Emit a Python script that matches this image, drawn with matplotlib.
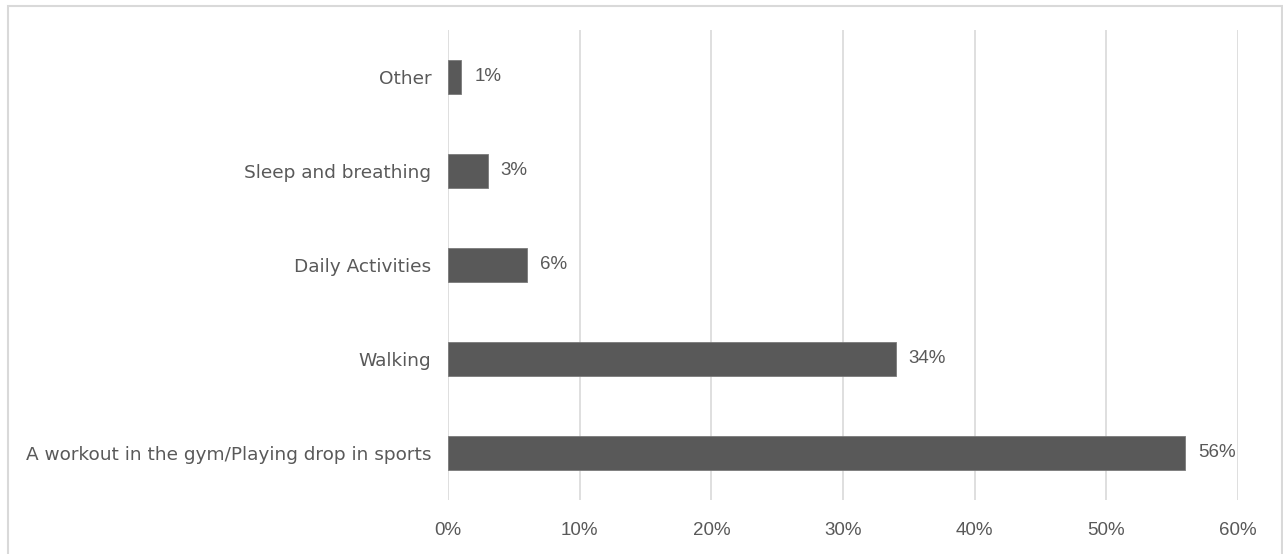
import matplotlib.pyplot as plt
from matplotlib.patches import Rectangle

# activity categories, bottom to top
activities = ['A workout in the gym/Playing drop in sports', 'Walking',
              'Daily Activities', 'Sleep and breathing', 'Other']
shares = [56, 34, 6, 3, 1]
ticks = [0, 10, 20, 30, 40, 50, 60]
tick_labels = ['0%', '10%', '20%', '30%', '40%', '50%', '60%']

plt.rcParams['font.family'] = ['Liberation Sans', 'DejaVu Sans']
grey = '#595959'

fig = plt.figure(figsize=(12.83, 5.54), dpi=100)
# outer frame of the chart area
fig.patches.append(Rectangle((0.006, -0.05), 0.993, 1.04, transform=fig.transFigure,
                             fill=False, edgecolor='#d9d9d9', linewidth=1.5))

ax = fig.add_axes([0.3492, 0.0975, 0.6157, 0.8484])
pos = range(len(activities))
ax.barh(pos, shares, height=0.36, color=grey, edgecolor='#7a7a7a', linewidth=0.6, zorder=3)

for y, v in zip(pos, shares):
    ax.text(v + 1.0, y, f'{v}%', va='center', ha='left', fontsize=13.5, color=grey)

ax.set_xlim(0, 60)
ax.set_ylim(-0.5, 4.5)
ax.set_xticks(ticks)
ax.set_xticklabels(tick_labels, fontsize=13.5, color=grey)
ax.set_yticks(list(pos))
ax.set_yticklabels(activities, fontsize=13.3, color=grey, family='DejaVu Sans')
ax.tick_params(length=0)
ax.tick_params(axis='x', pad=16)
ax.tick_params(axis='y', pad=12)
ax.grid(axis='x', color='#d9d9d9', linewidth=1.2, zorder=0)
for s in ax.spines.values():
    s.set_visible(False)

fig.savefig('out.png', dpi=100)
